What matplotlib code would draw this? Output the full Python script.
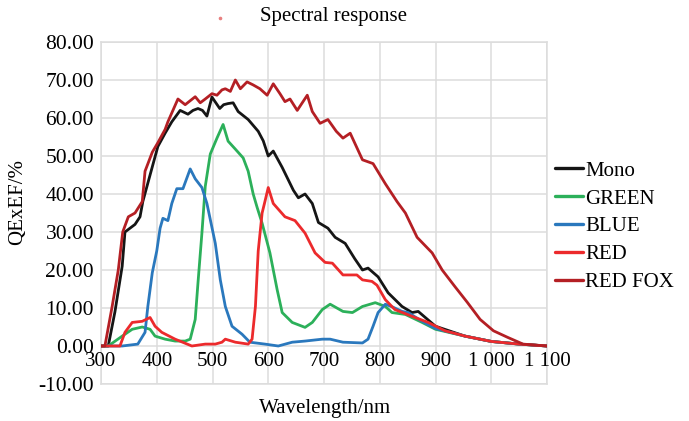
import matplotlib
matplotlib.use("Agg")
import matplotlib.pyplot as plt
from matplotlib.ticker import FixedLocator, FuncFormatter

plt.rcParams['font.family'] = ['Liberation Serif', 'DejaVu Serif']

# ---------------- data ----------------
mono_wl = [300, 313, 325, 338, 343, 361, 370, 375, 388, 402, 415, 427, 442, 456, 465, 474,
           482, 490, 499, 513, 520, 528, 537, 546, 564, 582, 591, 600, 609, 625, 645, 654,
           666, 679, 690, 707, 720, 738, 755, 769, 779, 797, 815, 840, 858, 869, 900, 953,
           1000, 1050, 1100]
mono_qe = [0, 0, 9, 21, 30, 32, 34, 38, 45, 52.5, 56, 59, 62, 61, 62, 62.5,
           62, 60.5, 65.5, 62.5, 63.5, 63.8, 64, 61.7, 59.6, 56.5, 54, 50, 51.3, 47, 41, 39,
           40, 37.5, 32.5, 31, 28.6, 27, 23, 20, 20.5, 18.2, 14, 10.4, 8.8, 9.1, 5.2, 2.6,
           1.2, 0.5, 0]

green_wl = [300, 313, 338, 356, 374, 388, 397, 415, 433, 451, 460, 469, 474, 481, 487, 496,
            508, 519, 528, 541, 555, 564, 573, 580, 589, 603, 616, 625, 643, 666, 679, 697,
            711, 734, 751, 769, 792, 810, 822, 846, 876, 900, 953, 1000, 1050, 1100]
green_qe = [0, 0, 2.6, 4.4, 5, 4.4, 2.6, 1.8, 1.3, 1.3, 1.8, 7, 16.7, 29.7, 42, 50.5,
            54.7, 58.3, 53.9, 51.8, 49.5, 46, 40, 36.5, 32.3, 24.5, 14.8, 8.8, 6.2, 4.9, 6.2, 9.6,
            11, 9.1, 8.8, 10.4, 11.4, 10.4, 8.8, 8.3, 6.2, 4.4, 2.6, 1.2, 0.5, 0]

blue_wl = [300, 338, 366, 379, 384, 392, 400, 406, 411, 420, 427, 436, 447, 460, 469, 481,
           490, 505, 514, 523, 535, 553, 567, 594, 618, 643, 666, 697, 711, 734, 769, 779,
           788, 797, 810, 824, 840, 851, 876, 900, 953, 1000, 1050, 1100]
blue_qe = [0, 0, 0.5, 3.6, 10.4, 19.3, 25, 31, 33.6, 33, 37.5, 41.4, 41.4, 46.6, 44, 41.7,
           37.5, 27, 17.4, 10.4, 5.2, 3.1, 1, 0.5, 0, 1, 1.3, 1.8, 1.8, 1, 0.8, 1.8,
           5.2, 8.8, 11, 10.2, 9.1, 8.8, 6.5, 4.6, 2.6, 1.2, 0.5, 0]

red_wl = [300, 334, 343, 356, 374, 388, 397, 409, 433, 463, 487, 505, 517, 523, 541, 564,
          571, 577, 582, 589, 594, 600, 609, 630, 648, 666, 684, 702, 715, 734, 743, 759,
          769, 786, 795, 810, 827, 858, 887, 917, 953, 1000, 1050, 1100]
red_qe = [0, 0, 3.6, 6.2, 6.5, 7.5, 5.2, 3.6, 1.8, 0, 0.5, 0.5, 1, 1.8, 1, 0.5,
          1.8, 10.4, 25, 35, 38, 41.7, 37.5, 34, 33, 29.7, 24.5, 22, 21.8, 18.7, 18.7, 18.7,
          17.4, 17, 16, 12.2, 9.6, 7.8, 6.2, 4, 2.6, 1.2, 0.5, 0]

fox_wl = [300, 307, 320, 331, 339, 349, 361, 374, 379, 392, 402, 415, 420, 438, 451, 469,
          478, 487, 499, 508, 517, 523, 532, 541, 550, 562, 573, 585, 598, 609, 621, 630,
          639, 652, 670, 679, 693, 707, 722, 734, 747, 769, 788, 810, 831, 846, 867, 894,
          912, 935, 957, 980, 1004, 1029, 1057, 1100]
fox_qe = [0, 0, 10.4, 20, 30, 34, 35, 38, 46, 51, 53.5, 57, 59, 65, 63.5, 65.6,
          64, 65, 66.4, 66, 67.4, 67.7, 67, 70, 67.7, 69.5, 68.7, 67.7, 66, 69, 66.4, 64.3,
          65, 62, 66, 61.7, 58.6, 59.6, 56.5, 54.7, 56, 49, 48, 42.7, 38, 35, 28.6, 24.5,
          20, 15.6, 11.5, 7, 4, 2.3, 0.5, 0]

series_names = ["Mono", "GREEN", "BLUE", "RED", "RED FOX"]
series_colors = ["#151515", "#2cb05a", "#2a78bd", "#ec2a2c", "#b41f24"]

x_ticks = [300, 400, 500, 600, 700, 800, 900, 1000, 1100]
x_tick_labels = ["300", "400", "500", "600", "700", "800", "900", "1 000", "1 100"]
y_ticks = [-10, 0, 10, 20, 30, 40, 50, 60, 70, 80]

title = "Spectral response"
x_title = "Wavelength/nm"
y_title = "QExEF/%"

# ---------------- figure ----------------
W, H = 689, 421
fig = plt.figure(figsize=(W / 100, H / 100), dpi=100)
ax = fig.add_axes([101 / W, 1 - 384 / H, (547 - 101) / W, (384 - 42) / H])

FS = 15
data = [(mono_wl, mono_qe), (green_wl, green_qe), (blue_wl, blue_qe),
        (red_wl, red_qe), (fox_wl, fox_qe)]
for (wl, qe), name, col in zip(data, series_names, series_colors):
    ax.plot(wl, qe, color=col, lw=2.0, label=name, solid_joinstyle='round',
            solid_capstyle='round', zorder=3)

ax.set_xlim(300, 1100)
ax.set_ylim(-10, 80)
ax.xaxis.set_major_locator(FixedLocator(x_ticks))
ax.yaxis.set_major_locator(FixedLocator(y_ticks))
ax.yaxis.set_major_formatter(FuncFormatter(lambda v, p: f"{v:.2f}"))
ax.grid(True, color="#dcdcdc", lw=1.1, zorder=0)
for s in ax.spines.values():
    s.set_color("#dcdcdc")
    s.set_linewidth(1.1)
ax.tick_params(axis='both', length=0, labelsize=FS)
ax.tick_params(axis='y', pad=5, labelsize=15.5)

# x tick labels sit just below the zero line
ax.set_xticklabels([])
for xv, lab in zip(x_ticks, x_tick_labels):
    ax.annotate(lab, xy=(xv, 0), xytext=(0, -4), textcoords='offset points',
                ha='center', va='top', fontsize=FS, annotation_clip=False)

fig.text(325 / W, 1 - 408 / H, x_title, ha='center', va='center', fontsize=FS)
fig.text(18 / W, 1 - 202 / H, y_title, ha='center', va='center', rotation=90, fontsize=FS)
fig.text(333 / W, 1 - 17 / H, title, ha='center', va='center', fontsize=FS)
fig.lines.append(plt.Line2D([220 / W], [1 - 18 / H], marker='o', ms=1.6,
                            color="#e88080", transform=fig.transFigure))

leg = ax.legend(loc='upper left', bbox_to_anchor=(555 / W, 1 - 161 / H),
                bbox_transform=fig.transFigure, frameon=False, fontsize=FS,
                handlelength=1.35, handletextpad=0.1, labelspacing=0.4, borderpad=0,
                borderaxespad=0)
for h in leg.get_lines():
    h.set_linewidth(2.4)

fig.savefig("out.png", dpi=100)
